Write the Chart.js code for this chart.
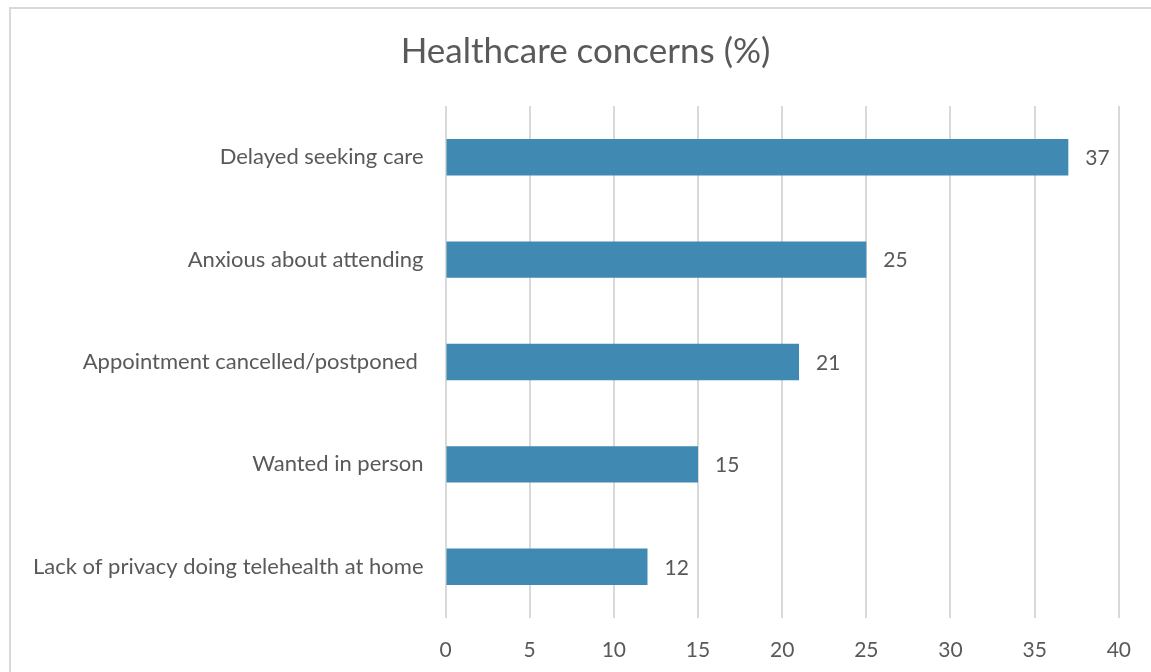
<!DOCTYPE html>
<html>
<head>
<meta charset="utf-8">
<script src="https://cdn.jsdelivr.net/npm/chart.js@4/dist/chart.umd.min.js"></script>
<style>
  html, body { margin: 0; padding: 0; background: #ffffff; }
  #wrap { position: relative; width: 1151px; height: 672px; overflow: hidden; }
  #frame { position: absolute; left: 9px; top: 7px; width: 1200px; height: 700px;
           border-top: 2px solid #d9d9d9; border-left: 2px solid #d9d9d9; box-sizing: border-box; }
  canvas { position: absolute; left: 0; top: 0; }
</style>
</head>
<body>
<div id="wrap">
  <div id="frame"></div>
  <canvas id="chart" width="1151" height="672"></canvas>
</div>
<script>
// Survey responses: share of respondents reporting each concern
const categories = [
  'Delayed seeking care',
  'Anxious about attending',
  'Appointment cancelled/postponed ',
  'Wanted in person',
  'Lack of privacy doing telehealth at home'
];
const values = [37, 25, 21, 15, 12];
const tickValues = [0, 5, 10, 15, 20, 25, 30, 35, 40];
const chartTitle = 'Healthcare concerns (%)';

const FONT = 'Lato, "Open Sans", sans-serif';
const TEXT = '#595959';

// Title centred over the whole framed chart, not only the plot
const frameTitle = {
  id: 'frameTitle',
  afterDraw(chart) {
    const ctx = chart.ctx;
    ctx.save();
    ctx.font = '35px ' + FONT;
    ctx.fillStyle = TEXT;
    ctx.textAlign = 'center';
    ctx.textBaseline = 'middle';
    ctx.fillText(chartTitle, 585.5, 52);
    ctx.restore();
  }
};

// Writes each bar's value just past its end
const valueLabels = {
  id: 'valueLabels',
  afterDatasetsDraw(chart) {
    const ctx = chart.ctx;
    const meta = chart.getDatasetMeta(0);
    ctx.save();
    ctx.font = '21px ' + FONT;
    ctx.fillStyle = TEXT;
    ctx.textAlign = 'left';
    ctx.textBaseline = 'middle';
    meta.data.forEach((bar, i) => {
      ctx.fillText(String(values[i]), bar.x + 17, bar.y + 1);
    });
    ctx.restore();
  }
};

new Chart(document.getElementById('chart'), {
  type: 'bar',
  data: {
    labels: categories,
    datasets: [{
      data: values,
      backgroundColor: '#3f89b3',
      borderWidth: 0,
      barPercentage: 0.355,
      categoryPercentage: 1
    }]
  },
  plugins: [valueLabels, frameTitle],
  options: {
    indexAxis: 'y',
    responsive: false,
    animation: false,
    layout: { padding: { left: 0, right: 30.5, top: 106, bottom: 0 } },
    plugins: {
      legend: { display: false },
      tooltip: { enabled: false },
      title: { display: false }
    },
    scales: {
      x: {
        min: 0,
        max: 40,
        afterBuildTicks(scale) { scale.ticks = tickValues.map(v => ({ value: v })); },
        afterFit(scale) { scale.height = 54; },
        grid: { color: '#d9d9d9', lineWidth: 2, drawTicks: false },
        border: { display: false },
        ticks: { color: TEXT, font: { family: FONT, size: 21 }, padding: 20 }
      },
      y: {
        afterFit(scale) { scale.width = 445.5; },
        grid: { display: false, drawTicks: false },
        border: { display: false },
        ticks: { color: TEXT, font: { family: FONT, size: 22 }, padding: 22 }
      }
    }
  }
});
</script>
</body>
</html>
